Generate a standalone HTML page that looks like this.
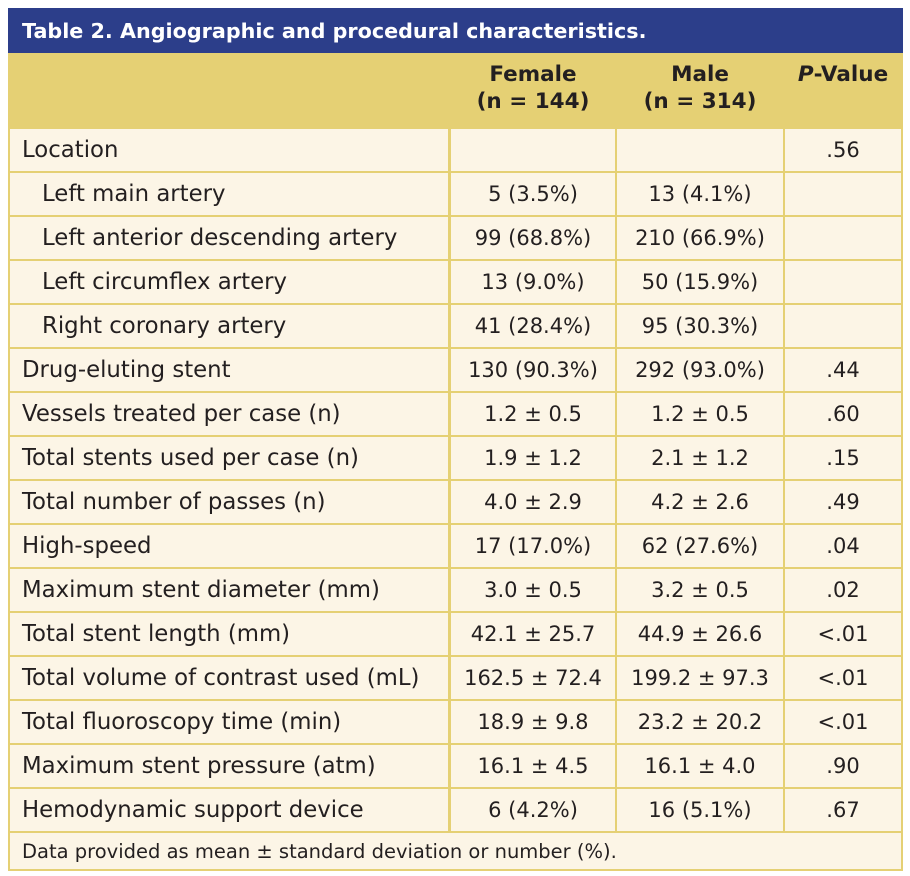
<!DOCTYPE html>
<html><head><meta charset="utf-8"><style>
body{margin:0;background:#fff;width:910px;height:876px;position:relative;font-family:"DejaVu Sans","Liberation Sans",sans-serif;color:#231f20;}
#t{position:absolute;left:8px;top:8px;width:895px;height:45px;background:#2c3e8a;color:#fff;font-size:20.7px;font-weight:bold;line-height:47px;padding-left:14px;box-sizing:border-box;}
#frame{position:absolute;left:8px;top:53px;width:895px;height:818px;background:#e5d074;}
.c{position:absolute;background:#fcf5e6;font-size:22.8px;line-height:43px;height:42px;white-space:nowrap;box-sizing:border-box;}
.r{text-align:center;font-size:21px}
.h{position:absolute;font-size:21.5px;font-weight:bold;text-align:center;line-height:27px;top:61px;}
</style></head><body>
<div id="t">Table 2. Angiographic and procedural characteristics.</div>
<div id="frame"></div>
<div class="h" style="left:451px;width:164px">Female<br>(n = 144)</div>
<div class="h" style="left:617px;width:166px">Male<br>(n = 314)</div>
<div class="h" style="left:785px;width:116px"><i>P</i>-Value</div>
<div id="rows"></div>
<div class="c" style="left:10px;top:833px;width:891px;height:36px;line-height:38px;font-size:19.5px;padding-left:12px">Data provided as mean ± standard deviation or number (%).</div>
<script>
var d=[["Location","","",".56",0],["Left main artery","5 (3.5%)","13 (4.1%)","",1],["Left anterior descending artery","99 (68.8%)","210 (66.9%)","",1],["Left circumflex artery","13 (9.0%)","50 (15.9%)","",1],["Right coronary artery","41 (28.4%)","95 (30.3%)","",1],["Drug-eluting stent","130 (90.3%)","292 (93.0%)",".44",0],["Vessels treated per case (n)","1.2 ± 0.5","1.2 ± 0.5",".60",0],["Total stents used per case (n)","1.9 ± 1.2","2.1 ± 1.2",".15",0],["Total number of passes (n)","4.0 ± 2.9","4.2 ± 2.6",".49",0],["High-speed","17 (17.0%)","62 (27.6%)",".04",0],["Maximum stent diameter (mm)","3.0 ± 0.5","3.2 ± 0.5",".02",0],["Total stent length (mm)","42.1 ± 25.7","44.9 ± 26.6","<.01",0],["Total volume of contrast used (mL)","162.5 ± 72.4","199.2 ± 97.3","<.01",0],["Total fluoroscopy time (min)","18.9 ± 9.8","23.2 ± 20.2","<.01",0],["Maximum stent pressure (atm)","16.1 ± 4.5","16.1 ± 4.0",".90",0],["Hemodynamic support device","6 (4.2%)","16 (5.1%)",".67",0]];
var cols=[[10,438],[451,164],[617,166],[785,116]],h="";
d.forEach(function(r,k){var top=129+44*k;
for(var i=0;i<4;i++){var s="left:"+cols[i][0]+"px;width:"+cols[i][1]+"px;top:"+top+"px;";
if(i==0)s+="padding-left:"+(r[4]?32:12)+"px;";
h+='<div class="c'+(i?' r':'')+'" style="'+s+'">'+r[i].replace(/</g,"&lt;")+'</div>';}});
document.getElementById("rows").innerHTML=h;
</script>
</body></html>
